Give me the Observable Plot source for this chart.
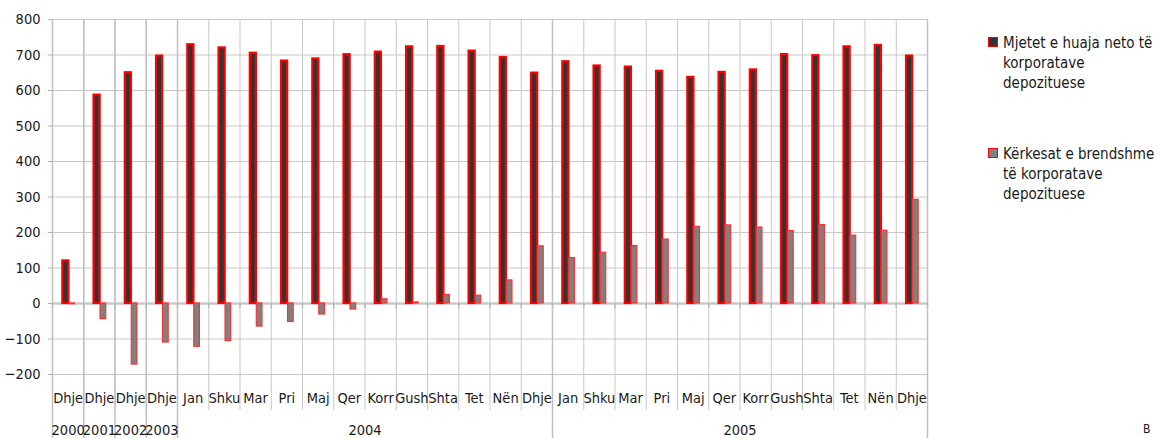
<!DOCTYPE html>
<html>
<head>
<meta charset="utf-8">
<script src="https://cdn.jsdelivr.net/npm/d3@7"></script>
<script src="https://cdn.jsdelivr.net/npm/@observablehq/plot@0.6"></script>
<style>
  html, body { margin: 0; padding: 0; background: #fff; overflow: hidden; }
  #wrap { position: relative; width: 1159px; height: 438px; overflow: hidden; font-family: "DejaVu Sans Condensed", "DejaVu Sans", sans-serif; color: #1a1a1a; }
  .leg { position: absolute; left: 988px; font-size: 15px; line-height: 20px; }
  .leg .sw { position: absolute; left: 0; top: 4px; width: 8px; height: 8px; border: 1.5px solid #ff0000; }
  .leg .tx { position: absolute; left: 15px; top: 0; width: 180px; white-space: nowrap; }
  #src { position: absolute; left: 1143px; top: 423px; font-size: 12px; line-height: 12px; }
</style>
</head>
<body>
<div id="wrap"></div>
<script>
// ---- data ----
const months = ["Dhje","Dhje","Dhje","Dhje",
  "Jan","Shku","Mar","Pri","Maj","Qer","Korr","Gush","Shta","Tet","Nën","Dhje",
  "Jan","Shku","Mar","Pri","Maj","Qer","Korr","Gush","Shta","Tet","Nën","Dhje"];
const years = ["2000","2001","2002","2003","2004","2005"];
const yearStart = [0, 1, 2, 3, 4, 16];
const yearEnd   = [1, 2, 3, 4, 16, 28];
const seriesNames = ["Mjetet e huaja neto të korporatave depozituese",
                     "Kërkesat e brendshme të korporatave depozituese"];
const mjetet = [120, 587, 650, 697,
  729, 720, 705, 683, 689, 701, 708, 723, 724, 711, 693, 649,
  681, 669, 666, 654, 637, 651, 658, 701, 698, 723, 727, 697];
const kerkesat = [-2, -44, -172, -110,
  -122, -106, -65, -52, -31, -17, 12, 3, 24, 22, 65, 161,
  128, 143, 162, 180, 216, 220, 214, 204, 221, 191, 205, 292];
const yTicks = [-200, -100, 0, 100, 200, 300, 400, 500, 600, 700, 800];

const idx = d3.range(months.length);
const rows1 = idx.map(i => ({i, v: mjetet[i]}));
const rows2 = idx.map(i => ({i, v: kerkesat[i]}));
const boundaries = d3.range(months.length + 1);
const yearRows = years.map((y, k) => ({y, s: yearStart[k], e: yearEnd[k]}));
const yearBounds = Array.from(new Set([...yearStart, ...yearEnd]));

const font = '"DejaVu Sans Condensed", "DejaVu Sans", sans-serif';

const chart = Plot.plot({
  width: 1159,
  height: 438,
  marginLeft: 52,
  marginRight: 232,
  marginTop: 19,
  marginBottom: 64,
  style: {fontFamily: font, fontSize: "14.5px", color: "#1a1a1a", background: "#fff"},
  x: {type: "linear", domain: [0, months.length], axis: null},
  y: {type: "linear", domain: [-200, 800], axis: null},
  marks: [
    Plot.ruleY(yTicks, {stroke: "#c8c8c8", strokeWidth: 1}),
    Plot.ruleX(boundaries, {stroke: "#c8c8c8", strokeWidth: 1, insetBottom: -36}),
    Plot.ruleX(yearBounds, {stroke: "#c0c0c0", strokeWidth: 1.5, insetBottom: -64}),
    Plot.ruleY([0], {stroke: "#c8c8c8", strokeWidth: 2.5}),
    Plot.ruleX(boundaries, {x: d => d, y1: 0, y2: 0, insetBottom: -5, stroke: "#b8b8b8", strokeWidth: 1.5}),
    Plot.rectY(rows1, {x1: d => d.i, x2: d => d.i + 1, y1: 0, y2: "v",
      insetLeft: 10.3, insetRight: 14.8, fill: "#333333", stroke: "#ff0000", strokeWidth: 2.2}),
    Plot.rectY(rows2, {x1: d => d.i, x2: d => d.i + 1, y1: 0, y2: "v",
      insetLeft: 16.8, insetRight: 8.8, fill: "#808080", stroke: "#ff3030", strokeWidth: 1.2}),
    Plot.axisY({ticks: yTicks, tickSize: 4, tickPadding: 8, stroke: "#b0b0b0", fill: "#1a1a1a", fontSize: 14.5, label: null}),
    Plot.text(idx, {x: d => d + 0.5, y: -200, text: d => months[d], dy: 24, fill: "#1a1a1a", fontSize: 14.5}),
    Plot.text(yearRows, {x: d => (d.s + d.e) / 2, y: -200, text: "y", dy: 56, fill: "#1a1a1a", fontSize: 14.5})
  ]
});

const wrap = document.getElementById("wrap");
wrap.appendChild(chart);

// legend
const legTops = [33, 144];
const legFills = ["#333333", "#808080"];
const legLines = [["Mjetet e huaja neto të", "korporatave", "depozituese"],
                  ["Kërkesat e brendshme", "të korporatave", "depozituese"]];
seriesNames.forEach((name, k) => {
  const d = document.createElement("div");
  d.className = "leg";
  d.style.top = legTops[k] + "px";
  d.title = name;
  const sw = document.createElement("div");
  sw.className = "sw";
  sw.style.background = legFills[k];
  d.appendChild(sw);
  const tx = document.createElement("div");
  tx.className = "tx";
  tx.innerHTML = legLines[k].join("<br>");
  d.appendChild(tx);
  wrap.appendChild(d);
});
const src = document.createElement("div");
src.id = "src";
src.textContent = "B";
wrap.appendChild(src);
</script>
</body>
</html>
